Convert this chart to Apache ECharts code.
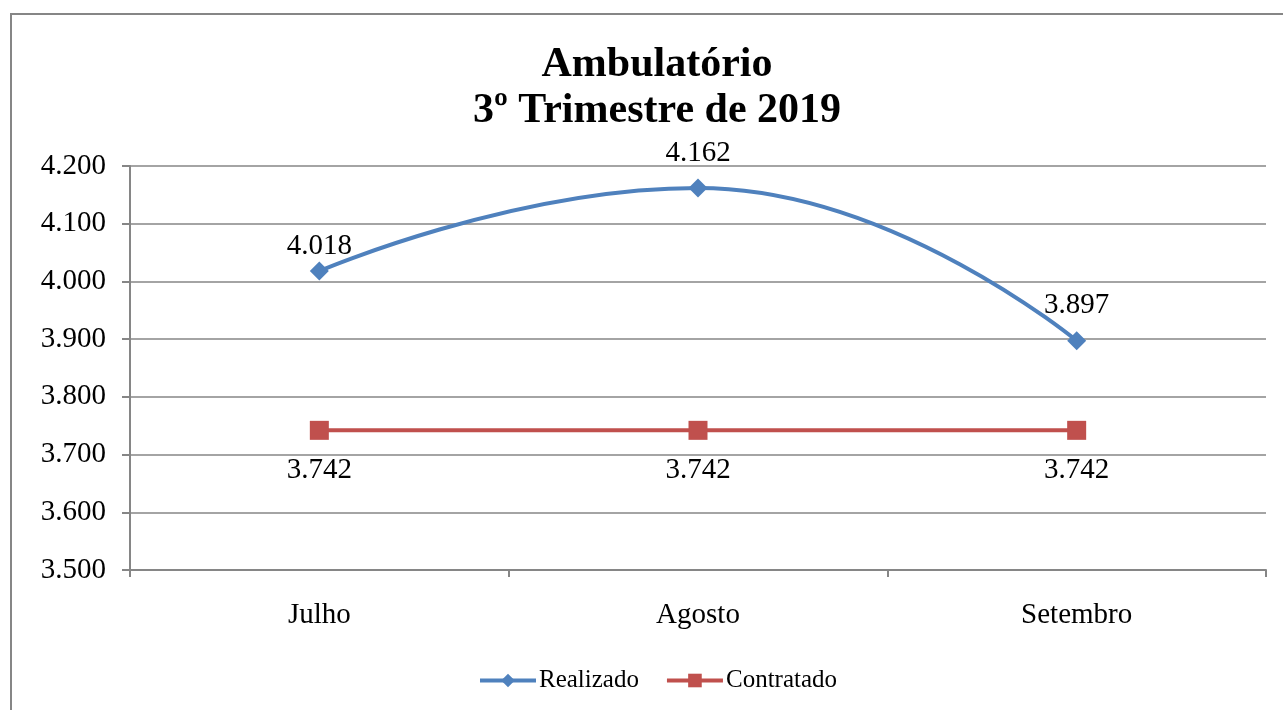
<!DOCTYPE html>
<html>
<head>
<meta charset="utf-8">
<script src="https://cdn.jsdelivr.net/npm/echarts@6/dist/echarts.min.js"></script>
<style>
  html, body { margin: 0; padding: 0; background: #fff; }
  #chart { width: 1283px; height: 710px; }
</style>
</head>
<body>
<div id="chart"></div>
<script>
const meses = ['Julho', 'Agosto', 'Setembro'];
const realizado = [4018, 4162, 3897];
const contratado = [3742, 3742, 3742];
const yTicks = [3500, 3600, 3700, 3800, 3900, 4000, 4100, 4200];

// formato brasileiro: 4018 -> 4.018
function fmt(v) {
  return (v / 1000).toFixed(3);
}

const chart = echarts.init(document.getElementById('chart'));
const fonte = 'Liberation Serif';
const cinza = '#868686';
const azul = '#4F81BD';
const vermelho = '#C0504D';

let option = {
  animation: false,
  textStyle: { fontFamily: fonte },
  graphic: [{
    type: 'rect',
    shape: { x: 11, y: 14, width: 1400, height: 800 },
    style: { fill: 'none', stroke: cinza, lineWidth: 2 },
    silent: true
  }],
  title: {
    text: 'Ambulatório\n3º Trimestre de 2019',
    left: 652,
    top: 37,
    textAlign: 'center',
    textStyle: {
      fontFamily: fonte,
      fontSize: 42,
      fontWeight: 'bold',
      color: '#000',
      lineHeight: 46
    }
  },
  legend: {
    bottom: 12,
    left: 473,
    itemWidth: 56,
    itemHeight: 17,
    itemGap: 26,
    lineStyle: { width: 4 },
    textStyle: { fontFamily: fonte, fontSize: 25, color: '#000', padding: [0, 0, 0, -2] },
    data: ['Realizado', 'Contratado']
  },
  grid: {
    left: 130,
    right: 17,
    top: 166,
    bottom: 140,
    containLabel: false
  },
  xAxis: {
    type: 'category',
    data: meses,
    boundaryGap: true,
    axisLine: { lineStyle: { color: cinza, width: 2 } },
    axisTick: { show: true, length: 7, lineStyle: { color: cinza, width: 2 } },
    axisLabel: { color: '#000', fontSize: 29, fontFamily: fonte, margin: 31 },
    splitLine: { show: false }
  },
  yAxis: {
    type: 'value',
    min: yTicks[0],
    max: yTicks[yTicks.length - 1],
    interval: 100,
    axisLine: { show: true, lineStyle: { color: cinza, width: 2 } },
    axisTick: { show: true, length: 8, lineStyle: { color: cinza, width: 2 } },
    axisLabel: {
      color: '#000', fontSize: 29, fontFamily: fonte, margin: 24,
      formatter: fmt
    },
    splitLine: { show: true, lineStyle: { color: cinza, width: 1.5 } }
  },
  series: [
    {
      name: 'Realizado',
      type: 'line',
      smooth: 0.5,
      data: realizado.map((v, i) => i === 0 ? { value: v, label: { distance: 1 } } : v),
      symbol: 'diamond',
      symbolSize: 19,
      itemStyle: { color: azul },
      lineStyle: { color: azul, width: 4 },
      label: {
        show: true,
        position: 'top',
        distance: 11,
        color: '#000',
        fontSize: 29,
        fontFamily: fonte,
        formatter: p => fmt(p.value)
      },
      z: 3
    },
    {
      name: 'Contratado',
      type: 'line',
      data: contratado,
      symbol: 'rect',
      symbolSize: 19,
      itemStyle: { color: vermelho },
      lineStyle: { color: vermelho, width: 4 },
      label: {
        show: true,
        position: 'bottom',
        distance: 16,
        color: '#000',
        fontSize: 29,
        fontFamily: fonte,
        formatter: p => fmt(p.value)
      },
      z: 2
    }
  ]
};

chart.setOption(option);
</script>
</body>
</html>
